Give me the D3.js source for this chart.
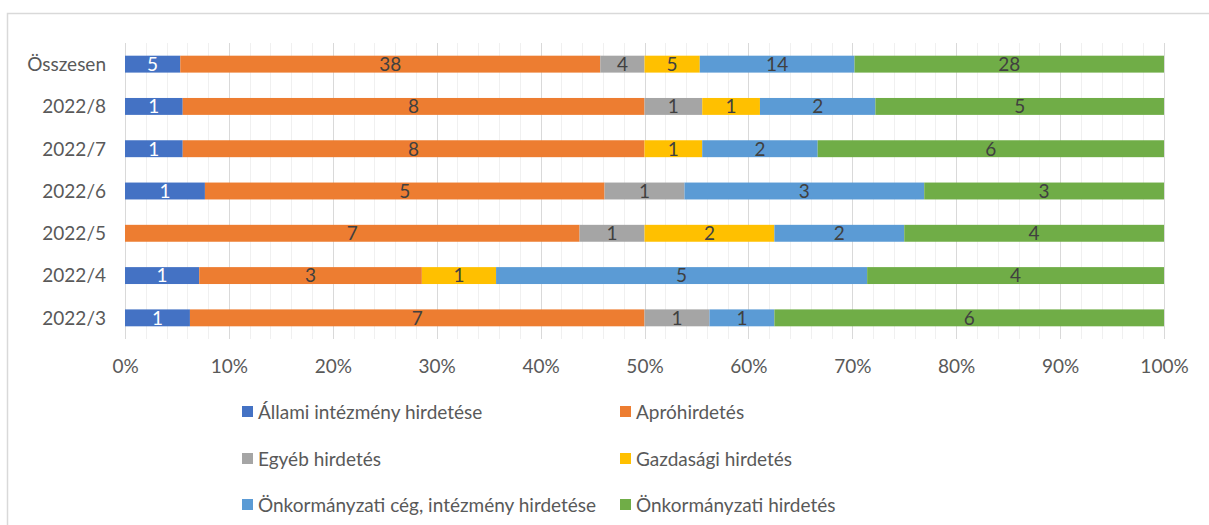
<!DOCTYPE html>
<html>
<head>
<meta charset="utf-8">
<script src="https://cdn.jsdelivr.net/npm/d3@7"></script>
<style>
  body { margin: 0; background: #fff; }
  svg { font-family: Lato, "Open Sans", sans-serif; }
</style>
</head>
<body>
<div id="chart"></div>
<script>
// categories, top to bottom
var categories = ["Összesen", "2022/8", "2022/7", "2022/6", "2022/5", "2022/4", "2022/3"];
var seriesNames = [
  "Állami intézmény hirdetése",
  "Apróhirdetés",
  "Egyéb hirdetés",
  "Gazdasági hirdetés",
  "Önkormányzati cég, intézmény hirdetése",
  "Önkormányzati hirdetés"
];
var allami     = [5, 1, 1, 1, 0, 1, 1];
var apro       = [38, 8, 8, 5, 7, 3, 7];
var egyeb      = [4, 1, 0, 1, 1, 0, 1];
var gazdasagi  = [5, 1, 1, 0, 2, 1, 0];
var onkCeg     = [14, 2, 2, 3, 2, 5, 1];
var onkHird    = [28, 5, 6, 3, 4, 4, 6];
var tickValues = [0, 0.1, 0.2, 0.3, 0.4, 0.5, 0.6, 0.7, 0.8, 0.9, 1];

var colors = ["#4472C4", "#ED7D31", "#A5A5A5", "#FFC000", "#5B9BD5", "#70AD47"];
var labelColors = ["#ffffff", "#404040", "#404040", "#404040", "#404040", "#404040"];
var fontSize = "19px";

var width = 1209, height = 525;
var svg = d3.select("#chart").append("svg")
  .attr("width", width)
  .attr("height", height);

// chart frame
svg.append("rect")
  .attr("x", 7.5).attr("y", 13.5)
  .attr("width", 1220).attr("height", 540)
  .attr("fill", "none")
  .attr("stroke", "#d9d9d9")
  .attr("stroke-width", 1.5);

var rows = categories.map(function (c, i) {
  var vals = [allami[i], apro[i], egyeb[i], gazdasagi[i], onkCeg[i], onkHird[i]];
  var total = d3.sum(vals);
  var row = { cat: c, total: total };
  seriesNames.forEach(function (s, j) { row[s] = vals[j] / total; row[s + "_n"] = vals[j]; });
  return row;
});

var stacked = d3.stack().keys(seriesNames)(rows);

var x = d3.scaleLinear().domain([0, 1]).range([125, 1164]);
var y = d3.scaleBand().domain(categories).range([43, 339]).paddingInner(0.6).paddingOuter(0.3);

// minor gridlines
svg.append("g")
  .selectAll("line")
  .data(d3.range(0, 1.0001, 0.02))
  .enter()
  .append("line")
  .attr("x1", function (d) { return Math.round(x(d)) + 0.5; })
  .attr("x2", function (d) { return Math.round(x(d)) + 0.5; })
  .attr("y1", 43).attr("y2", 339)
  .attr("stroke", "#f0f0f0")
  .attr("stroke-width", 1);

// major gridlines
svg.append("g")
  .selectAll("line")
  .data(tickValues)
  .enter()
  .append("line")
  .attr("x1", function (d) { return Math.round(x(d)) + 0.5; })
  .attr("x2", function (d) { return Math.round(x(d)) + 0.5; })
  .attr("y1", 43).attr("y2", 339)
  .attr("stroke", "#d9d9d9")
  .attr("stroke-width", 1);

// bars
var layers = svg.append("g")
  .selectAll("g")
  .data(stacked)
  .enter()
  .append("g")
  .attr("fill", function (d, i) { return colors[i]; });

layers.selectAll("rect")
  .data(function (d) { return d; })
  .enter()
  .append("rect")
  .attr("x", function (d) { return x(d[0]); })
  .attr("y", function (d) { return y(d.data.cat); })
  .attr("width", function (d) { return x(d[1]) - x(d[0]); })
  .attr("height", y.bandwidth());

// data labels
layers.each(function (layer, i) {
  d3.select(this).selectAll("text")
    .data(layer.filter(function (d) { return d[1] - d[0] > 0; }))
    .enter()
    .append("text")
    .attr("x", function (d) { return (x(d[0]) + x(d[1])) / 2; })
    .attr("y", function (d) { return y(d.data.cat) + y.bandwidth() / 2; })
    .attr("dy", "0.36em")
    .attr("text-anchor", "middle")
    .attr("fill", labelColors[i])
    .style("font-size", fontSize)
    .text(function (d) { return d.data[layer.key + "_n"]; });
});

// category labels
svg.append("g")
  .selectAll("text")
  .data(categories)
  .enter()
  .append("text")
  .attr("x", 106)
  .attr("y", function (d) { return y(d) + y.bandwidth() / 2; })
  .attr("dy", "0.36em")
  .attr("text-anchor", "end")
  .attr("fill", "#595959")
  .style("font-size", fontSize)
  .text(function (d) { return d; });

// x axis labels
var xAxis = d3.axisBottom(x).tickValues(tickValues).tickSize(0).tickPadding(0)
  .tickFormat(d3.format(".0%"));
var gx = svg.append("g").attr("transform", "translate(0,359)").call(xAxis);
gx.select(".domain").remove();
gx.selectAll("text")
  .attr("fill", "#595959")
  .style("font-size", fontSize)
  .style("font-family", "Lato, 'Open Sans', sans-serif");

// legend
var legendPos = [[242, 412], [620, 412], [242, 459], [620, 459], [242, 505], [620, 505]];
var legend = svg.append("g")
  .selectAll("g")
  .data(seriesNames)
  .enter()
  .append("g")
  .attr("transform", function (d, i) { return "translate(" + legendPos[i][0] + "," + legendPos[i][1] + ")"; });

legend.append("rect")
  .attr("x", 0).attr("y", -6)
  .attr("width", 11).attr("height", 11)
  .attr("fill", function (d, i) { return colors[i]; });

legend.append("text")
  .attr("x", 16)
  .attr("dy", "0.36em")
  .attr("fill", "#595959")
  .style("font-size", fontSize)
  .text(function (d) { return d; });
</script>
</body>
</html>
